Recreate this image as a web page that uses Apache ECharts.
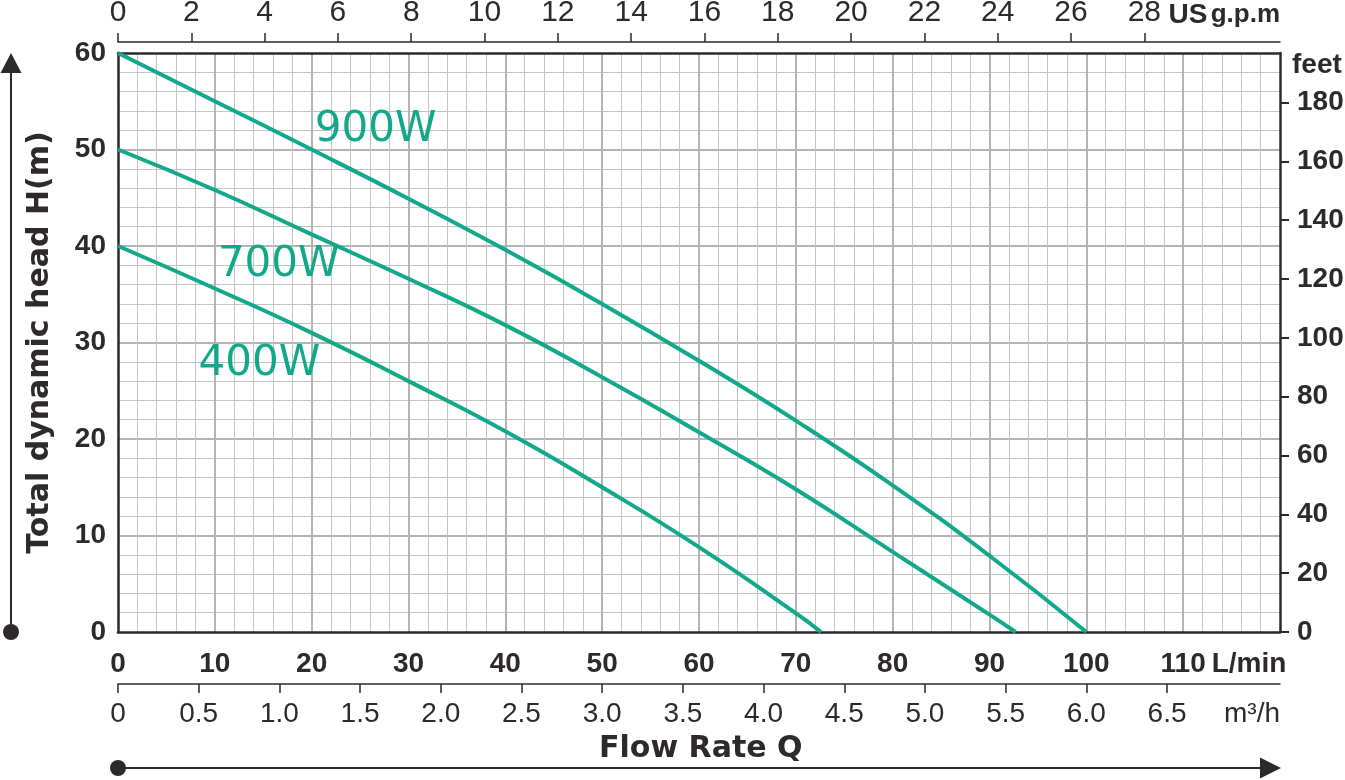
<!DOCTYPE html>
<html>
<head>
<meta charset="utf-8">
<script src="https://cdn.jsdelivr.net/npm/echarts@6/dist/echarts.min.js"></script>
<style>
html,body{margin:0;padding:0;background:#fff;}
#chart{width:1345px;height:780px;}
</style>
</head>
<body>
<div id="chart"></div>
<script>
// ---- data ----
const flow900 = [0, 10, 20, 30, 40, 50, 60, 70, 80, 90, 100];
const head900 = [60, 55.0, 50.0, 44.9, 39.6, 34.0, 28.1, 21.9, 15.2, 7.9, 0];
const flow700 = [0, 10, 20, 30, 40, 50, 60, 70, 80, 90, 92.7];
const head700 = [50, 45.8, 41.2, 36.6, 31.8, 26.4, 20.7, 14.8, 8.3, 1.8, 0];
const flow400 = [0, 10, 20, 30, 40, 50, 60, 70, 72.6];
const head400 = [40, 35.6, 31.0, 26.0, 20.8, 15.0, 8.8, 1.95, 0];
const seriesNames = ['900W', '700W', '400W'];

// tick labels
const flowTicks = [0, 10, 20, 30, 40, 50, 60, 70, 80, 90, 100, 110];
const gpmTicks = [0, 2, 4, 6, 8, 10, 12, 14, 16, 18, 20, 22, 24, 26, 28];
const m3hTicks = [0, 0.5, 1.0, 1.5, 2.0, 2.5, 3.0, 3.5, 4.0, 4.5, 5.0, 5.5, 6.0, 6.5];
const headTicks = [0, 10, 20, 30, 40, 50, 60];
const feetTicks = [0, 20, 40, 60, 80, 100, 120, 140, 160, 180];

// unit conversions
const LPM_PER_GPM = 3.785411784;
const M_PER_FT = 0.3048;
const FLOW_MAX = 120;
const HEAD_MAX = 60;

// ---- styles ----
const dark = '#2e2a2b';
const green = '#12a88a';
const arial = "'Liberation Sans',Arial,sans-serif";
const wide = "'DejaVu Sans',sans-serif";

function pairs(xs, ys) { return xs.map((x, i) => [x, ys[i]]); }

const labelAnchors = {
  '900W': [26.6, 52.0],
  '700W': [16.6, 38.0],
  '400W': [14.6, 27.8]
};

function makeSeries(name, xs, ys) {
  return {
    name: name,
    type: 'line',
    xAxisIndex: 0,
    yAxisIndex: 0,
    data: pairs(xs, ys),
    smooth: 0.5,
    symbol: 'none',
    lineStyle: { color: green, width: 4 },
    z: 5,
    markPoint: {
      symbol: 'circle',
      symbolSize: 1,
      itemStyle: { color: 'rgba(0,0,0,0)' },
      label: {
        show: true, position: 'inside', formatter: '{b}',
        fontFamily: wide, fontSize: 42, color: green
      },
      data: [{ name: name, coord: labelAnchors[name] }]
    }
  };
}

const chart = echarts.init(document.getElementById('chart'), null, { renderer: 'canvas' });

const boldNum = { fontFamily: arial, fontWeight: 'bold', fontSize: 28, color: dark };

const option = {
  animation: false,
  backgroundColor: '#fff',
  title: {
    text: 'Flow Rate Q',
    left: 594,
    top: 729,
    textStyle: { fontFamily: wide, fontWeight: 'bold', fontSize: 30, color: dark }
  },
  grid: { left: 118, right: 65, top: 53, bottom: 148, containLabel: false, outerBoundsMode: 'none' },
  xAxis: [
    {
      type: 'value', position: 'bottom', min: 0, max: FLOW_MAX, interval: 10,
      axisLine: { show: true, onZero: false, lineStyle: { color: dark, width: 2.5 } },
      axisTick: { show: false },
      axisLabel: Object.assign({ customValues: flowTicks, margin: 18 }, boldNum),
      splitLine: { show: true, showMinLine: false, showMaxLine: false, lineStyle: { color: '#b4b4b4', width: 2 } },
      minorTick: { show: false, splitNumber: 5 },
      minorSplitLine: { show: true, lineStyle: { color: '#c4c4c4', width: 1 } },
      name: 'L/min', nameLocation: 'end', nameGap: 0,
      nameTextStyle: Object.assign({ align: 'right', verticalAlign: 'top', padding: [18, 0, 0, 0] }, boldNum),
      z: 3
    },
    {
      type: 'value', position: 'bottom', offset: 52, min: 0, max: FLOW_MAX * 60 / 1000,
      axisLine: { show: true, onZero: false, lineStyle: { color: dark, width: 1.5 } },
      axisTick: { show: true, customValues: m3hTicks, length: 9, lineStyle: { color: dark, width: 1.5 } },
      axisLabel: {
        customValues: m3hTicks,
        formatter: v => (v === 0 ? '0' : v.toFixed(1)),
        fontFamily: arial, fontSize: 28, color: dark, margin: 16
      },
      splitLine: { show: false },
      name: 'm³/h', nameLocation: 'end', nameGap: 0,
      nameTextStyle: {
        fontFamily: arial, fontSize: 28, color: dark,
        align: 'right', verticalAlign: 'top', padding: [16, 0, 0, 0]
      }
    },
    {
      type: 'value', position: 'top', offset: 11, min: 0, max: FLOW_MAX / LPM_PER_GPM,
      axisLine: { show: true, onZero: false, lineStyle: { color: dark, width: 1.5 } },
      axisTick: { show: true, customValues: gpmTicks, length: 9, lineStyle: { color: dark, width: 1.5 } },
      axisLabel: {
        customValues: gpmTicks,
        fontFamily: arial, fontSize: 30, color: dark, margin: 14
      },
      splitLine: { show: false },
      name: '{a|US} {b|g.p.m}', nameLocation: 'end', nameGap: 0,
      nameTextStyle: {
        align: 'right', verticalAlign: 'bottom', padding: [0, 0, 13, 0],
        rich: {
          a: { fontFamily: arial, fontWeight: 'bold', fontSize: 28, color: dark },
          b: { fontFamily: arial, fontWeight: 'bold', fontSize: 26, color: dark }
        }
      }
    },
    {
      type: 'value', position: 'top', offset: 0, min: 0, max: FLOW_MAX,
      axisLine: { show: true, onZero: false, lineStyle: { color: dark, width: 2.5 } },
      axisTick: { show: false }, axisLabel: { show: false }, splitLine: { show: false },
      z: 3
    }
  ],
  yAxis: [
    {
      type: 'value', position: 'left', min: 0, max: HEAD_MAX, interval: 10,
      axisLine: { show: true, onZero: false, lineStyle: { color: dark, width: 2.5 } },
      axisTick: { show: false },
      axisLabel: Object.assign({ customValues: headTicks, margin: 12 }, boldNum),
      splitLine: { show: true, showMinLine: false, showMaxLine: false, lineStyle: { color: '#b4b4b4', width: 2 } },
      minorTick: { show: false, splitNumber: 5 },
      minorSplitLine: { show: true, lineStyle: { color: '#c4c4c4', width: 1 } },
      name: 'Total dynamic head H(m)', nameLocation: 'middle', nameRotate: 90, nameGap: 63,
      nameTextStyle: { fontFamily: wide, fontWeight: 'bold', fontSize: 30, color: dark },
      z: 3
    },
    {
      type: 'value', position: 'right', min: 0, max: HEAD_MAX / M_PER_FT,
      axisLine: { show: true, onZero: false, lineStyle: { color: dark, width: 2.5 } },
      axisTick: { show: true, customValues: feetTicks, length: 9, lineStyle: { color: dark, width: 2 } },
      axisLabel: Object.assign({ customValues: feetTicks, margin: 17 }, boldNum),
      splitLine: { show: false },
      name: 'feet', nameLocation: 'end', nameGap: -12,
      nameTextStyle: Object.assign({ align: 'left', verticalAlign: 'middle', padding: [0, 0, 0, 12] }, boldNum),
      z: 3
    }
  ],
  graphic: [
    { type: 'line', shape: { x1: 11, y1: 632, x2: 11, y2: 70 }, style: { stroke: dark, lineWidth: 2 } },
    { type: 'circle', shape: { cx: 11, cy: 632, r: 8 }, style: { fill: dark } },
    { type: 'polygon', shape: { points: [[11, 53], [0.5, 73], [21.5, 73]] }, style: { fill: dark } },
    { type: 'line', shape: { x1: 118, y1: 768, x2: 1262, y2: 768 }, style: { stroke: dark, lineWidth: 2 } },
    { type: 'circle', shape: { cx: 118, cy: 768, r: 8 }, style: { fill: dark } },
    { type: 'polygon', shape: { points: [[1281, 768], [1260, 757.5], [1260, 778.5]] }, style: { fill: dark } }
  ],
  series: [
    makeSeries(seriesNames[0], flow900, head900),
    makeSeries(seriesNames[1], flow700, head700),
    makeSeries(seriesNames[2], flow400, head400)
  ]
};

chart.setOption(option);
</script>
</body>
</html>
